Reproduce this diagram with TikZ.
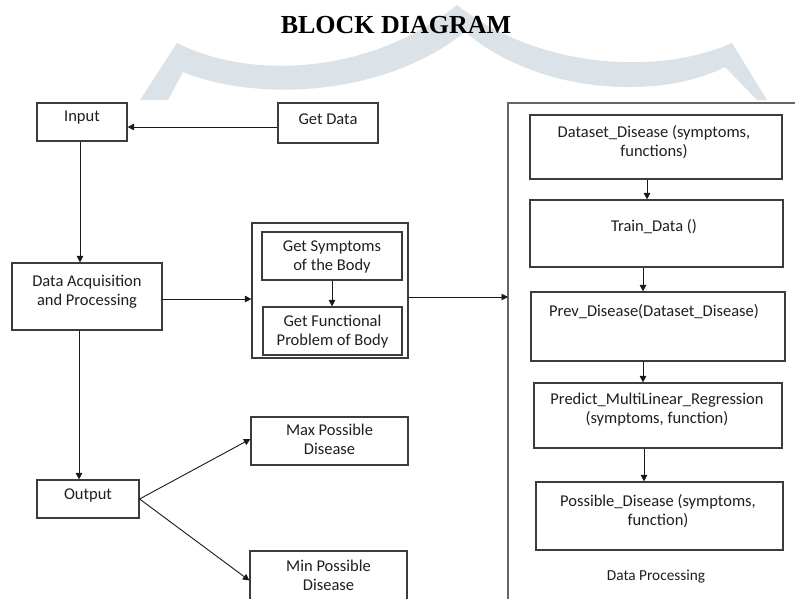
\documentclass[tikz,border=0pt]{standalone}
\usepackage{fontspec}
\setmainfont{Carlito}
\newfontfamily\titlefont{Liberation Serif}
\usetikzlibrary{arrows.meta}
\definecolor{wm}{RGB}{220,227,232}
\definecolor{bx}{RGB}{60,60,60}
\tikzset{
  box/.style={draw=bx, line width=1.2pt, inner sep=0pt},
  txt/.style={font=\fontsize{16.5}{19}\selectfont, align=center, inner sep=0pt, text=black!88},
  arr/.style={draw=black!90, line width=0.9pt, -{Triangle[length=6.5pt,width=6.5pt]}},
  frame/.style={draw=black!60, line width=1.5pt},
}
\begin{document}
\begin{tikzpicture}[x=1pt,y=-1pt]
\useasboundingbox (0,0) rectangle (795,598);
\fill[white] (0,0) rectangle (795,598);
% watermark
\fill[wm] (140,100) -- (177,43) .. controls (250,80) and (370,75) .. (457,5)
  .. controls (540,70) and (660,75) .. (732,43) -- (767,100) -- (757,100) -- (725,67)
  .. controls (660,100) and (540,95) .. (465,32)
  .. controls (380,100) and (250,100) .. (183,72) -- (168,100) -- cycle;
% title
\node[inner sep=0pt, font=\titlefont\bfseries\fontsize{26}{30}\selectfont] (title) at (396,25) {BLOCK DIAGRAM};

% left side boxes
\node[box, minimum width=90, minimum height=38] (input) at (82,122) {};
\node[txt] (inputT) at (82,118) {Input};
\node[box, minimum width=100, minimum height=40] (getdata) at (328,123) {};
\node[txt] (getdataT) at (328,119) {Get Data};
\node[box, minimum width=150, minimum height=67] (daq) at (87,296.5) {};
\node[txt] (daqT) at (87,292) {Data Acquisition\\and Processing};
\node[box, minimum width=156, minimum height=135] (group) at (330,290.5) {};
\node[box, minimum width=140, minimum height=48] (sym) at (332,256) {};
\node[txt] (symT) at (332,256.5) {Get Symptoms\\of the Body};
\node[box, minimum width=139, minimum height=48] (func) at (332.5,331) {};
\node[txt] (funcT) at (332.5,332) {Get Functional\\Problem of Body};
\node[box, minimum width=102, minimum height=38] (output) at (88,499) {};
\node[txt] (outputT) at (88,495) {Output};
\node[box, minimum width=157, minimum height=48] (maxd) at (329.5,441) {};
\node[txt] (maxdT) at (329.5,439.5) {Max Possible\\Disease};
\node[box, minimum width=157, minimum height=59] (mind) at (328.5,580.5) {};
\node[txt] (mindT) at (328.5,575) {Min Possible\\Disease};

% data processing frame
\coordinate (ftl) at (508,103);
\coordinate (ftr) at (796,103);
\coordinate (fbl) at (508,605);
\draw[frame] (ftr) -- (ftl) -- (fbl);
\node[box, minimum width=252, minimum height=64] (ds) at (656,147) {};
\node[txt] (dsT) at (654,142) {Dataset\_Disease (symptoms,\\functions)};
\node[box, minimum width=253, minimum height=67] (train) at (656.5,233.5) {};
\node[txt] (trainT) at (654,227) {Train\_Data ()};
\node[box, minimum width=254, minimum height=69] (prev) at (658,326.5) {};
\node[txt] (prevT) at (654,312) {Prev\_Disease(Dataset\_Disease)};
\node[box, minimum width=248, minimum height=65] (pred) at (658,415.5) {};
\node[txt] (predT) at (657,409.5) {Predict\_MultiLinear\_Regression\\(symptoms, function)};
\node[box, minimum width=247, minimum height=68] (poss) at (659.5,516) {};
\node[txt] (possT) at (658,511) {Possible\_Disease (symptoms,\\function)};
\node[txt, font=\fontsize{15.3}{18}\selectfont] (dpT) at (656,577) {Data Processing};

% connectors
\coordinate (c1) at ([yshift=-4pt]getdata.west);
\draw[arr] (c1) -- (c1 -| input.east);
\coordinate (c2) at ([xshift=-2pt]input.south);
\draw[arr] (c2) -- (c2 |- daq.north);
\coordinate (c3) at ([yshift=-2.5pt]daq.east);
\draw[arr] (c3) -- (c3 -| group.west);
\draw[arr] (sym.south) -- (sym.south |- func.north);
\coordinate (c4) at ([yshift=-6.5pt]group.east);
\draw[arr] (c4) -- (c4 -| ftl);
\coordinate (c5) at ([xshift=-8pt]daq.south);
\draw[arr] (c5) -- (c5 |- output.north);
\draw[arr] (output.east) -- ([yshift=2pt]maxd.west);
\draw[arr] (output.east) -- (mind.west);
\coordinate (c6) at ([xshift=-9pt]ds.south);
\draw[arr] (c6) -- (c6 |- train.north);
\coordinate (c7) at ([xshift=-13.5pt]train.south);
\draw[arr] (c7) -- (c7 |- prev.north);
\coordinate (c8) at ([xshift=-15pt]prev.south);
\draw[arr] (c8) -- (c8 |- pred.north);
\coordinate (c9) at ([xshift=-14pt]pred.south);
\draw[arr] (c9) -- (c9 |- poss.north);
\end{tikzpicture}
\end{document}
